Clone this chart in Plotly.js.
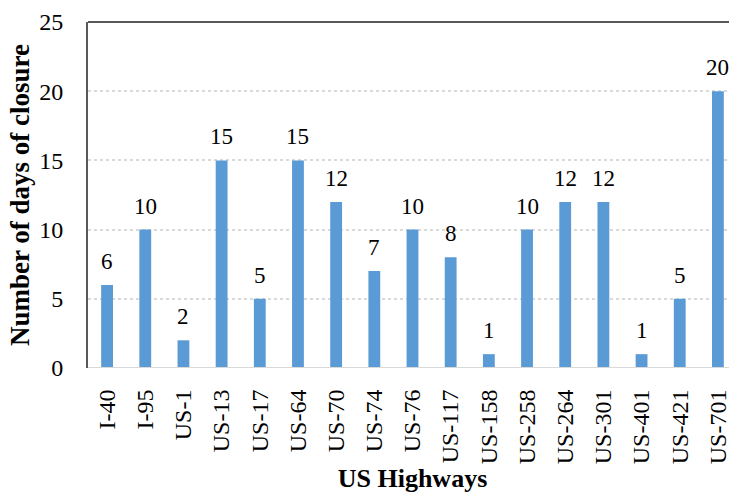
<!DOCTYPE html>
<html>
<head>
<meta charset="utf-8">
<script src="https://cdn.plot.ly/plotly-3.0.1.min.js"></script>
<style>
html, body { margin: 0; padding: 0; overflow: hidden; background: #fff; }
#chart { width: 780px; height: 498px; }
</style>
</head>
<body>
<div id="chart"></div>
<script>
const highways = ["I-40","I-95","US-1","US-13","US-17","US-64","US-70","US-74","US-76","US-117","US-158","US-258","US-264","US-301","US-401","US-421","US-701"];
const closureDays = [6,10,2,15,5,15,12,7,10,8,1,10,12,12,1,5,20];
const yTicks = [0,5,10,15,20,25];

const FONT = "Liberation Serif, Times New Roman, serif";

const trace = {
  type: "bar",
  x: highways,
  y: closureDays,
  marker: { color: "#5B9BD5" },
  width: 0.31,
  hoverinfo: "x+y"
};

const annotations = highways.map((h, i) => ({
  x: h, y: closureDays[i], xref: "x", yref: "y",
  text: String(closureDays[i]),
  showarrow: false, yanchor: "bottom", yshift: 9,
  font: { family: FONT, size: 23, color: "#000" }
}));

const layout = {
  width: 780, height: 498,
  margin: { l: 88, r: 43, t: 22, b: 130 },
  paper_bgcolor: "#fff", plot_bgcolor: "#fff",
  showlegend: false,
  font: { family: FONT, color: "#000" },
  xaxis: {
    type: "category",
    tickangle: -90,
    tickfont: { family: FONT, size: 24, color: "#000" },
    ticks: "outside", ticklen: 11, tickcolor: "rgba(0,0,0,0)",
    showline: false, showgrid: false, zeroline: false,
    title: { text: "<b>US Highways</b>", font: { family: FONT, size: 26, color: "#000" }, standoff: 4 }
  },
  yaxis: {
    range: [0, 25],
    tickvals: yTicks,
    ticktext: yTicks.map(String),
    tickfont: { family: FONT, size: 24, color: "#000" },
    ticks: "outside", ticklen: 18, tickcolor: "rgba(0,0,0,0)",
    showgrid: true, gridcolor: "#d9d9d9", gridwidth: 2, griddash: "dot",
    zeroline: false,
    showline: true, linecolor: "#595959", linewidth: 2,
    title: { text: "<b>Number of days of closure</b>", font: { family: FONT, size: 27, color: "#000" }, standoff: 2 }
  },
  shapes: [
    { type: "line", xref: "paper", yref: "paper", x0: 0, x1: 1, y0: 1, y1: 1, line: { color: "#595959", width: 2 } },
    { type: "line", xref: "paper", yref: "y", x0: 0, x1: 1, y0: 0, y1: 0, line: { color: "#d9d9d9", width: 2 } }
  ],
  annotations: annotations
};

Plotly.newPlot("chart", [trace], layout, { displayModeBar: false, staticPlot: true });
</script>
</body>
</html>
